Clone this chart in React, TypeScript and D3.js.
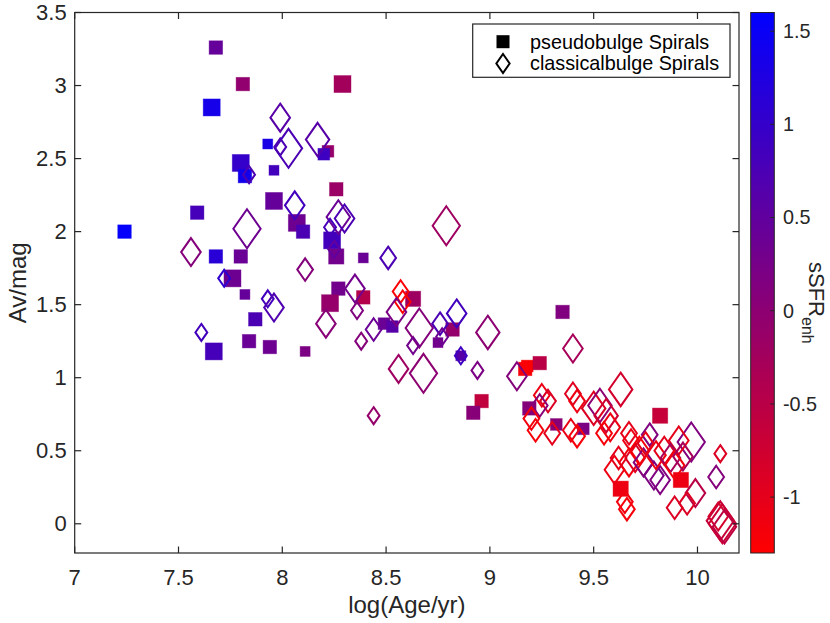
import React from "react";
import * as d3 from "d3";

// ---------- data ----------
// pseudobulge spirals (filled squares)
const pseudoAge = [7.24, 7.68, 7.66, 7.81, 8.29, 7.80, 7.82, 7.93, 7.96, 7.59, 7.96, 8.07, 8.10, 8.22, 8.20, 8.26, 8.24, 8.26, 7.68, 7.80, 7.76, 7.82, 7.87, 7.84, 7.67, 7.94, 8.11, 8.27, 8.23, 8.39, 8.39, 8.49, 8.53, 8.63, 8.82, 8.75, 8.86, 8.96, 8.92, 9.35, 9.17, 9.18, 9.24, 9.19, 9.32, 9.45, 9.82, 9.63, 9.92];
const pseudoAv = [2.00, 3.26, 2.85, 3.01, 3.01, 2.47, 2.38, 2.60, 2.42, 2.13, 2.21, 2.06, 2.00, 2.55, 2.53, 2.29, 1.94, 1.83, 1.83, 1.83, 1.68, 1.57, 1.40, 1.25, 1.18, 1.21, 1.18, 1.61, 1.51, 1.55, 1.82, 1.37, 1.35, 1.54, 1.33, 1.24, 1.15, 0.84, 0.76, 1.45, 1.06, 1.08, 1.10, 0.79, 0.68, 0.65, 0.74, 0.24, 0.30];
const pseudoSSFR = [1.55, 0.45, 1.35, -0.05, -0.25, 1.0, 1.4, 1.3, 0.85, 0.8, 0.45, 0.35, 0.75, -0.1, 0.9, -0.15, 0.85, 0.3, 1.15, 0.4, 0.35, 0.45, 0.75, 0.4, 0.8, 0.35, 0.2, 0.3, -0.1, -0.45, 0.4, 0.4, 0.6, -0.2, -0.1, 0.3, 0.6, -0.6, 0.05, 0.15, -1.2, -1.25, -0.5, 0.1, 0.05, 0.2, -0.65, -1.1, -1.1];
const pseudoMass = [2, 2, 3, 2, 3, 3, 2, 1, 1, 2, 3, 3, 2, 1.5, 1.5, 2, 3, 2.5, 2, 2, 3, 1, 2, 2, 3, 2, 1, 2, 3, 2, 1, 1.5, 1.5, 2.5, 2, 1, 1, 2, 2, 2, 2, 1.5, 2, 2, 1.5, 1.5, 2.5, 2.5, 2.5];

// classical-bulge spirals (open diamonds)
const classicAge = [7.99, 8.03, 7.99, 8.17, 7.84, 8.06, 7.83, 8.27, 8.30, 8.23, 8.25, 7.56, 7.72, 7.93, 7.96, 7.61, 8.11, 8.21, 8.35, 8.36, 8.38, 8.79, 8.51, 8.57, 8.58, 8.55, 8.66, 8.76, 8.84, 8.44, 8.63, 8.77, 8.86, 8.99, 8.56, 8.68, 8.94, 8.44, 9.13, 9.40,
  9.25, 9.28, 9.24, 9.20, 9.22, 9.40, 9.42, 9.50, 9.53, 9.56, 9.58, 9.39, 9.42, 9.30,
  9.63, 9.55, 9.67, 9.68, 9.77, 9.97, 9.91, 10.11, 9.60, 9.65, 9.66, 9.67, 9.70, 9.72, 9.74, 9.79, 9.82, 9.80, 9.84, 9.87, 9.89, 9.99, 9.89, 9.95, 10.09, 10.11, 10.12, 10.10, 10.13, 9.75, 9.62, 9.93];
const classicAv = [2.78, 2.57, 2.58, 2.63, 2.39, 2.18, 2.02, 2.10, 2.09, 2.03, 1.88, 1.86, 1.68, 1.54, 1.48, 1.31, 1.74, 1.37, 1.61, 1.46, 1.25, 2.04, 1.82, 1.59, 1.52, 1.45, 1.34, 1.37, 1.44, 1.33, 1.22, 1.28, 1.15, 1.31, 1.06, 1.03, 1.05, 0.74, 1.01, 1.20,
  0.88, 0.84, 0.81, 0.72, 0.64, 0.89, 0.84, 0.79, 0.81, 0.74, 0.66, 0.64, 0.60, 0.62,
  0.92, 0.62, 0.62, 0.57, 0.61, 0.56, 0.57, 0.48, 0.37, 0.15, 0.10, 0.42, 0.45, 0.50, 0.42, 0.33, 0.30, 0.47, 0.50, 0.45, 0.40, 0.21, 0.11, 0.14, 0.32, 0.02, 0.00, 0.05, -0.02, 0.55, 0.45, 0.46];
const classicSSFR = [0.6, 0.75, 0.75, 0.6, 0.75, 0.85, 0.35, 0.4, 0.75, 0.8, 0.5, 0.1, 1.05, 0.85, 0.7, 0.85, 0.1, 0.05, 0.3, 0.15, 0.1, -0.2, 0.75, -1.25, -1.25, 0.2, 0.1, 0.75, 0.85, 0.4, 0.3, 0.35, 0.9, 0.0, -0.2, 0.0, 0.2, -0.1, 0.1, -0.3,
  -1.1, -0.9, 0.05, -1.15, -1.2, -0.95, -1.1, -0.9, 0.0, -0.75, -1.1, -1.05, -1.2, -1.0,
  -0.8, -1.2, -1.0, -1.1, 0.15, 0.15, -1.0, -0.9, -1.1, -1.15, -1.2, -1.15, -0.9, -1.2, 0.1, 0.2, 0.15, -1.1, -1.0, -0.3, -1.15, -0.5, -0.9, -0.9, 0.1, -0.65, -0.7, -0.8, -0.55, -1.0, -1.0, -0.3];
const classicMass = [2, 3, 1, 2.5, 1, 2, 3, 2.5, 2, 1, 1, 2, 1, 1, 2, 1, 1.5, 2, 2, 1, 1, 3, 1.5, 1.5, 1.5, 2, 3, 1.5, 2, 1.5, 1, 1, 1, 2.5, 2, 3, 1, 1, 2, 2,
  1.5, 1.5, 1.5, 1.5, 1.5, 1.5, 1.5, 2.5, 2.5, 2.5, 2, 1.5, 1.5, 1.5,
  2.5, 1.5, 1.5, 1.5, 1.5, 3, 2, 1, 2, 1.5, 1.5, 2, 2, 2, 2, 2, 2, 2, 2, 2, 2, 2, 1.5, 1.5, 1.5, 3, 3, 2, 2.5, 1.5, 1.5, 2];

const xTicks = [7, 7.5, 8, 8.5, 9, 9.5, 10];
const yTicks = [0, 0.5, 1, 1.5, 2, 2.5, 3, 3.5];
const cTicks = [-1, -0.5, 0, 0.5, 1, 1.5];
const legendLabels = ["pseudobulge Spirals", "classicalbulge Spirals"];

// ---------- layout ----------
const W = 830, H = 623;
const L = 74.7, R = 739, T = 12.5, B = 553;
const CB_L = 750.7, CB_R = 774.3;
const AX = "#262626";
const FONT = "'Liberation Sans', Arial, Helvetica, sans-serif";
const TICK = 6.5;

export default function App() {
  const x = d3.scaleLinear().domain([7, 10.2]).range([L, R]);
  const y = d3.scaleLinear().domain([-0.2, 3.5]).range([B, T]);
  const cDomain: [number, number] = [-1.3, 1.6];
  const color = d3.scaleLinear<string>().domain(cDomain).range(["#ff0000", "#0000ff"]).interpolate(d3.interpolateRgb).clamp(true);
  const cbY = d3.scaleLinear().domain(cDomain).range([B, T]);
  const sq = d3.scaleLinear().domain([1, 3]).range([10, 17]);
  const dh = d3.scaleLinear().domain([1, 3]).range([17, 39]);

  const diamond = (h: number) => {
    const w = h * 0.7;
    return `M0,${-h / 2}L${w / 2},0L0,${h / 2}L${-w / 2},0Z`;
  };

  const pseudo = pseudoAge.map((a, i) => ({ a, v: pseudoAv[i], s: pseudoSSFR[i], m: pseudoMass[i] }));
  const classic = classicAge.map((a, i) => ({ a, v: classicAv[i], s: classicSSFR[i], m: classicMass[i] }));

  const gradStops = d3.range(0, 1.0001, 0.05);

  return (
    <svg width={W} height={H} style={{ position: "absolute", left: 0, top: 0, background: "#fff" }} fontFamily={FONT}>
      <defs>
        <linearGradient id="cb" x1="0" y1="1" x2="0" y2="0">
          {gradStops.map((t) => (
            <stop key={t} offset={t} stopColor={color(cDomain[0] + t * (cDomain[1] - cDomain[0]))} />
          ))}
        </linearGradient>
        <clipPath id="plot">
          <rect x={L} y={T} width={R - L} height={B - T} />
        </clipPath>
      </defs>
      <rect x={0} y={0} width={W} height={H} fill="#fff" />

      {/* markers */}
      <g clipPath="url(#plot)">
        {pseudo.map((d, i) => {
          const s = sq(d.m);
          return (
            <rect key={"p" + i} x={x(d.a) - s / 2} y={y(d.v) - s / 2} width={s} height={s}
              fill={color(d.s)} stroke={color(d.s)} strokeOpacity={0.5} strokeWidth={0.8} />
          );
        })}
        {classic.map((d, i) => (
          <path key={"c" + i} d={diamond(dh(d.m))} transform={`translate(${x(d.a)},${y(d.v)})`}
            fill="none" stroke={color(d.s)} strokeWidth={2} />
        ))}
      </g>

      {/* axes box */}
      <rect x={L} y={T} width={R - L} height={B - T} fill="none" stroke={AX} strokeWidth={1.2} />
      {xTicks.map((t) => (
        <g key={"xt" + t}>
          <line x1={x(t)} x2={x(t)} y1={B} y2={B - TICK} stroke={AX} strokeWidth={1.2} />
          <line x1={x(t)} x2={x(t)} y1={T} y2={T + TICK} stroke={AX} strokeWidth={1.2} />
          <text x={x(t)} y={585} textAnchor="middle" fontSize={22} fill={AX}>{t}</text>
        </g>
      ))}
      {yTicks.map((t) => (
        <g key={"yt" + t}>
          <line x1={L} x2={L + TICK} y1={y(t)} y2={y(t)} stroke={AX} strokeWidth={1.2} />
          <line x1={R} x2={R - TICK} y1={y(t)} y2={y(t)} stroke={AX} strokeWidth={1.2} />
          <text x={L - 8} y={y(t)} dy="0.35em" textAnchor="end" fontSize={22} fill={AX}>{t}</text>
        </g>
      ))}
      <text x={x(8.6)} y={613} textAnchor="middle" fontSize={24} fill={AX}>log(Age/yr)</text>
      <text transform={`translate(26,${(T + B) / 2}) rotate(-90)`} textAnchor="middle" fontSize={24} fill={AX}>Av/mag</text>

      {/* legend */}
      <g>
        <rect x={472.7} y={24} width={257.3} height={53.3} fill="#fff" stroke={AX} strokeWidth={1.2} />
        <rect x={503 - 6.5} y={41.7 - 6.5} width={13} height={13} fill="#000" />
        <path d={diamond(19)} transform="translate(503,63.5)" fill="none" stroke="#000" strokeWidth={2} />
        <text x={530} y={41.7} dy="0.35em" fontSize={19.8} fill="#000">{legendLabels[0]}</text>
        <text x={530} y={63.5} dy="0.35em" fontSize={19.8} fill="#000">{legendLabels[1]}</text>
      </g>

      {/* colorbar */}
      <rect x={CB_L} y={T} width={CB_R - CB_L} height={B - T} fill="url(#cb)" stroke={AX} strokeWidth={1} />
      {cTicks.map((t) => (
        <g key={"ct" + t}>
          <line x1={CB_R} x2={CB_R - 4} y1={cbY(t)} y2={cbY(t)} stroke={AX} strokeWidth={1} />
          <text x={783} y={cbY(t)} dy="0.35em" fontSize={19.8} fill={AX}>{t}</text>
        </g>
      ))}
      <text transform={`translate(809,262) rotate(90)`} fontSize={22} fill={AX}>
        sSFR<tspan dy={7} fontSize={16}>enh</tspan>
      </text>
    </svg>
  );
}
